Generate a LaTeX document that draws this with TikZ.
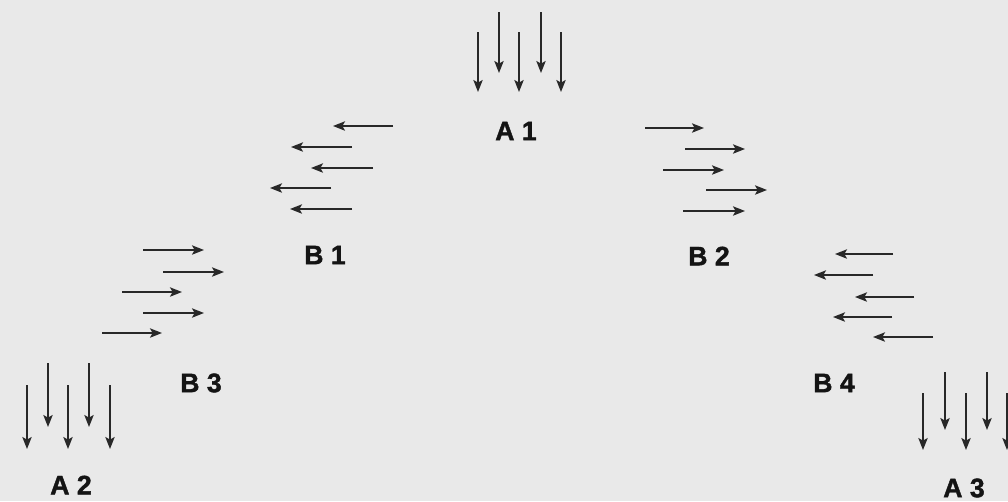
\documentclass[tikz,border=0pt]{standalone}
\usepackage{fontspec}
\setmainfont{Liberation Sans}
\newfontfamily\labfont[BoldFeatures={FakeBold=1.5}]{Liberation Sans}
\usetikzlibrary{arrows.meta}
\definecolor{bg}{RGB}{233,233,233}
\definecolor{ink}{RGB}{40,40,40}
\tikzset{
  arr/.style={draw=ink, line width=1.3pt, -{Stealth[length=9pt,width=7pt,inset=2pt]}},
  lab/.style={font=\labfont\fontsize{20}{20}\selectfont\bfseries, text=black!92, inner sep=0pt}
}
\begin{document}
\begin{tikzpicture}[x=0.75pt,y=-0.75pt]
\fill[bg] (0,0) rectangle (1008,501);
\useasboundingbox (0,0) rectangle (1008,501);
% A1
\foreach \x in {478,519,561} \draw[arr] (\x,32) -- (\x,92);
\foreach \x in {499,541} \draw[arr] (\x,12) -- (\x,73);
\node[lab] (A1) at (516,131) {A 1};
% B1
\draw[arr] (393,126) -- (333,126);
\draw[arr] (352,147) -- (291,147);
\draw[arr] (373,168) -- (311,168);
\draw[arr] (331,188) -- (270,188);
\draw[arr] (352,209) -- (290,209);
\node[lab] (B1) at (325,255) {B 1};
% B2
\draw[arr] (645,128) -- (704,128);
\draw[arr] (685,149) -- (745,149);
\draw[arr] (663,170) -- (724,170);
\draw[arr] (706,190) -- (767,190);
\draw[arr] (683,211) -- (745,211);
\node[lab] (B2) at (709,256) {B 2};
% B3
\draw[arr] (143,250) -- (204,250);
\draw[arr] (163,272) -- (224,272);
\draw[arr] (122,292) -- (182,292);
\draw[arr] (143,313) -- (204,313);
\draw[arr] (102,333) -- (162,333);
\node[lab] (B3) at (201,383) {B 3};
% A2
\foreach \x in {27,68,110} \draw[arr] (\x,385) -- (\x,449);
\foreach \x in {48,89} \draw[arr] (\x,363) -- (\x,427);
\node[lab] (A2) at (71,485) {A 2};
% B4
\draw[arr] (893,254) -- (835,254);
\draw[arr] (873,275) -- (814,275);
\draw[arr] (914,297) -- (855,297);
\draw[arr] (892,317) -- (833,317);
\draw[arr] (933,337) -- (873,337);
\node[lab] (B4) at (834,383) {B 4};
% A3
\foreach \x in {923,966,1007} \draw[arr] (\x,393) -- (\x,450);
\foreach \x in {945,987} \draw[arr] (\x,372) -- (\x,430);
\node[lab] (A3) at (964,488) {A 3};
\end{tikzpicture}
\end{document}
